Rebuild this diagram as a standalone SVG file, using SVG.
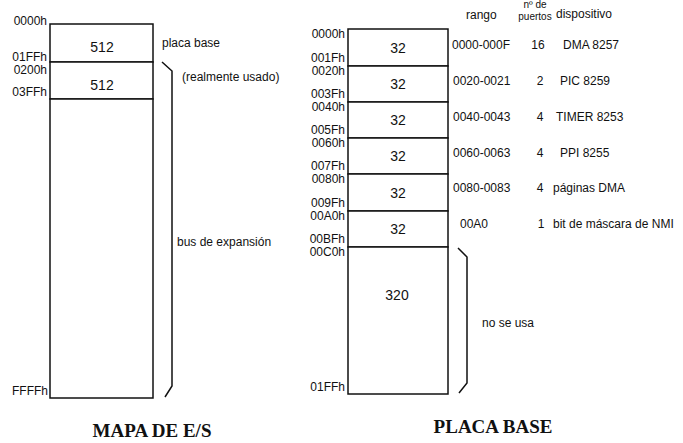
<svg xmlns="http://www.w3.org/2000/svg" width="683" height="443" viewBox="0 0 683 443">
<style>
.box{fill:#fff;stroke:#111;stroke-width:1.5}
.brace{fill:none;stroke:#111;stroke-width:1.5}
.t{font-family:"Liberation Sans",Arial,sans-serif;font-size:12px;fill:#111}
.addr{font-family:"Liberation Sans",Arial,sans-serif;font-size:12px;fill:#111;text-anchor:end}
.num{font-family:"Liberation Sans",Arial,sans-serif;font-size:14px;fill:#111;text-anchor:middle}
.sm{font-family:"Liberation Sans",Arial,sans-serif;font-size:10px;fill:#111;text-anchor:middle}
.title{font-family:"Liberation Serif","Times New Roman",serif;font-size:19px;font-weight:bold;fill:#111;text-anchor:middle}
</style>
<rect width="683" height="443" fill="#fff"/>

<!-- MAPA DE E/S -->
<g id="mapa">
<g id="io-0000">
<rect class="box" x="50" y="24" width="103" height="38"/>
<text class="num" x="102" y="52">512</text>
<text class="addr" x="47" y="25">0000h</text>
<text class="addr" x="47" y="61">01FFh</text>
</g>
<g id="io-0200">
<rect class="box" x="50" y="62" width="103" height="37"/>
<text class="num" x="102" y="90">512</text>
<text class="addr" x="47" y="74">0200h</text>
<text class="addr" x="47" y="96">03FFh</text>
</g>
<g id="io-0400">
<rect class="box" x="50" y="99" width="103" height="299"/>
<text class="addr" x="48" y="395">FFFFh</text>
</g>
<text class="t" x="162" y="47">placa base</text>
<text class="t" x="182" y="81">(realmente usado)</text>
<text class="t" x="177" y="246">bus de expansión</text>
<text class="title" x="152" y="437">MAPA DE E/S</text>
</g>

<!-- PLACA BASE -->
<g id="placa">
<g id="pb-0000">
<rect class="box" x="348" y="29" width="100" height="37"/>
<text class="num" x="398" y="53">32</text>
<text class="addr" x="345" y="38">0000h</text>
<text class="addr" x="345" y="62">001Fh</text>
</g>
<g id="pb-0020">
<rect class="box" x="348" y="66" width="100" height="36"/>
<text class="num" x="398" y="89">32</text>
<text class="addr" x="345" y="75">0020h</text>
<text class="addr" x="345" y="98">003Fh</text>
</g>
<g id="pb-0040">
<rect class="box" x="348" y="102" width="100" height="36"/>
<text class="num" x="398" y="125">32</text>
<text class="addr" x="345" y="111">0040h</text>
<text class="addr" x="345" y="134">005Fh</text>
</g>
<g id="pb-0060">
<rect class="box" x="348" y="138" width="100" height="36"/>
<text class="num" x="398" y="161">32</text>
<text class="addr" x="345" y="147">0060h</text>
<text class="addr" x="345" y="170">007Fh</text>
</g>
<g id="pb-0080">
<rect class="box" x="348" y="174" width="100" height="37"/>
<text class="num" x="398" y="198">32</text>
<text class="addr" x="345" y="183">0080h</text>
<text class="addr" x="345" y="207">009Fh</text>
</g>
<g id="pb-00A0">
<rect class="box" x="348" y="211" width="100" height="36"/>
<text class="num" x="398" y="234">32</text>
<text class="addr" x="345" y="220">00A0h</text>
<text class="addr" x="345" y="243">00BFh</text>
</g>
<g id="pb-00C0">
<rect class="box" x="348" y="247" width="100" height="147"/>
<text class="num" x="397" y="300">320</text>
<text class="addr" x="345" y="256">00C0h</text>
<text class="addr" x="345" y="391">01FFh</text>
</g>

<g id="table">
<text class="t" x="466" y="19">rango</text>
<text class="sm" x="535" y="8">nº de</text>
<text class="sm" x="535" y="19.5">puertos</text>
<text class="t" x="556" y="18">dispositivo</text>

<text class="t" x="452" y="49">0000-000F</text>
<text class="t" x="538" y="49" text-anchor="middle">16</text>
<text class="t" x="563" y="49">DMA 8257</text>

<text class="t" x="453" y="85">0020-0021</text>
<text class="t" x="540" y="85" text-anchor="middle">2</text>
<text class="t" x="560" y="85">PIC 8259</text>

<text class="t" x="453" y="121">0040-0043</text>
<text class="t" x="540" y="121" text-anchor="middle">4</text>
<text class="t" x="556" y="121">TIMER 8253</text>

<text class="t" x="453" y="157">0060-0063</text>
<text class="t" x="540" y="157" text-anchor="middle">4</text>
<text class="t" x="560" y="157">PPI 8255</text>

<text class="t" x="453" y="192">0080-0083</text>
<text class="t" x="540" y="192" text-anchor="middle">4</text>
<text class="t" x="553" y="192">páginas DMA</text>

<text class="t" x="460" y="228">00A0</text>
<text class="t" x="541" y="228" text-anchor="middle">1</text>
<text class="t" x="553" y="228">bit de máscara de NMI</text>
</g>
<text class="t" x="482" y="327">no se usa</text>
<text class="title" x="493" y="433">PLACA BASE</text>
</g>

<g id="connectors">
<path class="brace" d="M162,62 L172,71 L172,386 L165,397"/>
<path class="brace" d="M458,248 L467,257 L467,383 L459,393"/>
</g>
</svg>
